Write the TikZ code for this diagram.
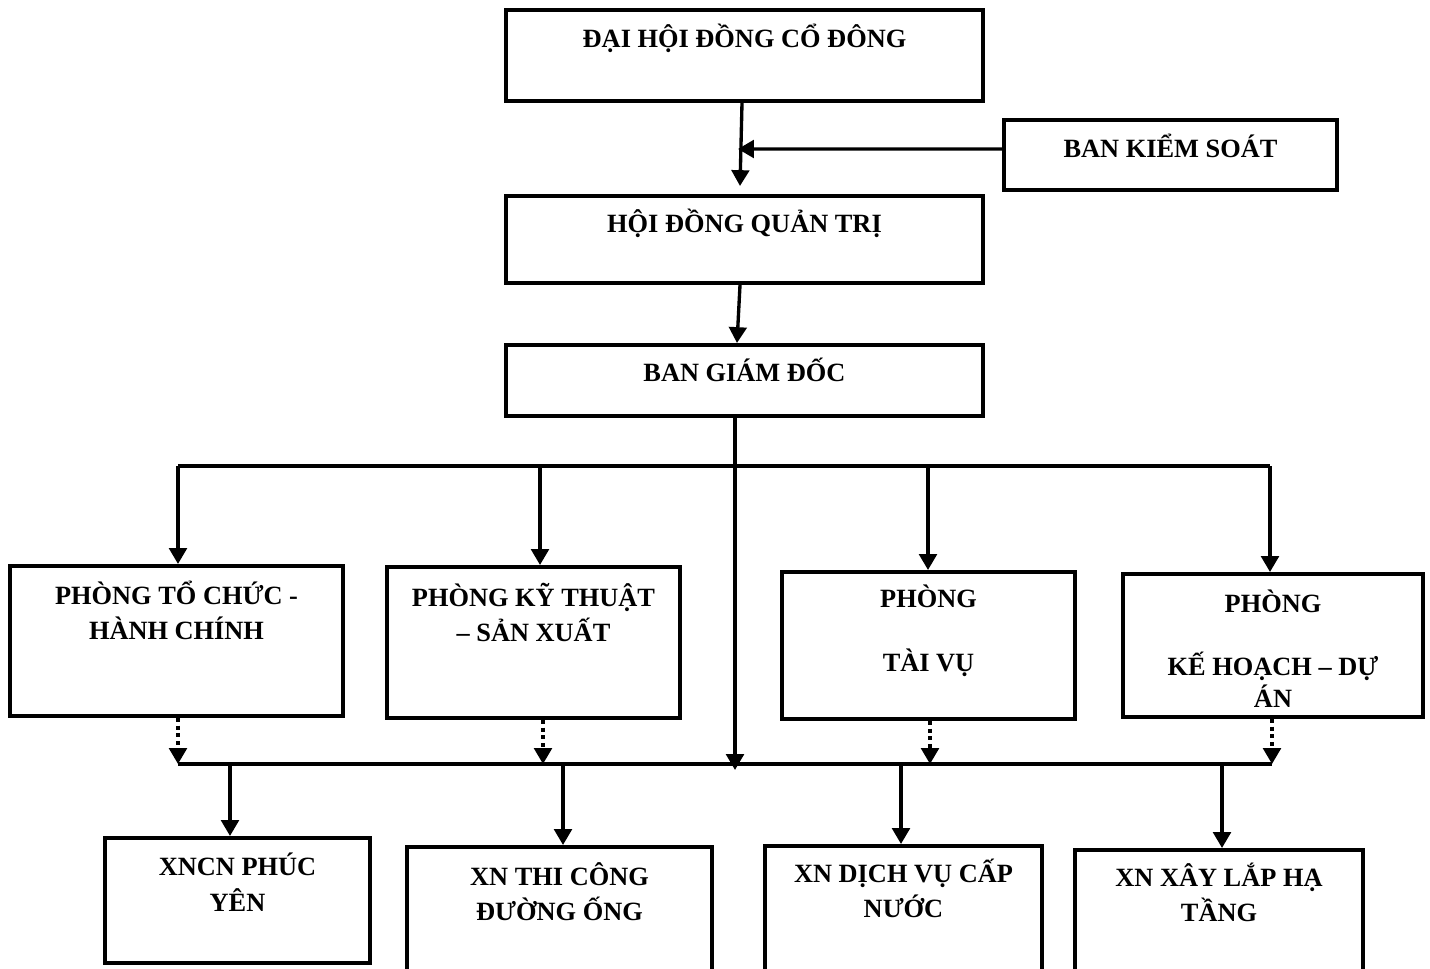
\documentclass[tikz,border=0pt]{standalone}
\usepackage{fontspec}
\setmainfont{Liberation Serif}
\usepackage{tikz}
\usetikzlibrary{positioning,calc,arrows.meta}

\begin{document}
\begin{tikzpicture}[x=0.02cm,y=-0.02cm,
        unit/.style={draw=black,line width=2.3pt,inner sep=0pt,fill=white},
        title/.style={font=\fontsize{15}{20}\selectfont\bfseries,align=center,inner sep=0pt,
                      execute at begin node=\rule{0pt}{16pt}},
        link/.style={line width=1.9pt,-{Triangle[width=10pt,length=9pt]}},
        sublink/.style={link,dash pattern=on 2.2pt off 2.2pt}
    ]
    \useasboundingbox (0,0) rectangle (1430,969);
    \clip (0,0) rectangle (1430,969);

    % Top levels
    \node[unit,minimum width=9.54cm,minimum height=1.82cm] (dh) at (744.5,55.5) {};
    \node[title,below=0.23cm of dh.north] (ldh) {ĐẠI HỘI ĐỒNG CỔ ĐÔNG};

    \node[unit,minimum width=6.66cm,minimum height=1.40cm] (bks) at (1170.5,155) {};
    \node[title,below=0.22cm of bks.north] (lbks) {BAN KIỂM SOÁT};

    \node[unit,minimum width=9.54cm,minimum height=1.74cm] (hdqt) at (744.5,239.5) {};
    \node[title,below=0.21cm of hdqt.north] (lhdqt) {HỘI ĐỒNG QUẢN TRỊ};

    \node[unit,minimum width=9.54cm,minimum height=1.42cm] (bgd) at (744.5,380.5) {};
    \node[title,below=0.20cm of bgd.north] (lbgd) {BAN GIÁM ĐỐC};

    % Departments
    \node[unit,minimum width=6.66cm,minimum height=3.00cm] (p1) at (176.5,641) {};
    \node[title,below=0.34cm of p1.north] (lp1) {PHÒNG TỔ CHỨC -\\HÀNH CHÍNH};

    \node[unit,minimum width=5.86cm,minimum height=3.02cm] (p2) at (533.5,642.5) {};
    \node[title,below=0.35cm of p2.north] (lp2) {PHÒNG KỸ THUẬT\\– SẢN XUẤT};

    \node[unit,minimum width=5.86cm,minimum height=2.94cm] (p3) at (928.5,645.5) {};
    \node[title,below=0.30cm of p3.north] (lp3) {PHÒNG\\[0.56cm]TÀI VỤ};

    \node[unit,minimum width=6.00cm,minimum height=2.86cm] (p4) at (1273,645.5) {};
    \node[title,below=0.36cm of p4.north] (lp4) {PHÒNG\\[0.54cm]KẾ HOẠCH – DỰ\\[-0.06cm]ÁN};

    % Enterprises
    \node[unit,minimum width=5.30cm,minimum height=2.50cm] (x1) at (237.5,900.5) {};
    \node[title,below=0.34cm of x1.north] (lx1) {XNCN PHÚC\\YÊN};

    \node[unit,minimum width=6.10cm,minimum height=3.30cm] (x2) at (559.5,929.5) {};
    \node[title,below=0.34cm of x2.north] (lx2) {XN THI CÔNG\\ĐƯỜNG ỐNG};

    \node[unit,minimum width=5.54cm,minimum height=3.30cm] (x3) at (903.5,928.5) {};
    \node[title,below=0.30cm of x3.north] (lx3) {XN DỊCH VỤ CẤP\\NƯỚC};

    \node[unit,minimum width=5.76cm,minimum height=3.30cm] (x4) at (1219,932.5) {};
    \node[title,below=0.30cm of x4.north] (lx4) {XN XÂY LẮP HẠ\\TẦNG};

    % Bus points
    \coordinate (jn) at (738,149);
    \coordinate (bm) at (735,770);
    \coordinate (t1) at (178,466);  \coordinate (t2) at (540,466);
    \coordinate (t3) at (928,466);  \coordinate (t4) at (1270,466);
    \coordinate (d1) at (178,764);  \coordinate (d2) at (543,764);
    \coordinate (d3) at (930,764);  \coordinate (d4) at (1272,764);
    \coordinate (e1) at (230,764);  \coordinate (e2) at (563,764);
    \coordinate (e3) at (901,764);  \coordinate (e4) at (1222,764);

    % Connectors
    \draw[link] ([xshift=-0.05cm]dh.south) -- ([xshift=-0.09cm,yshift=0.16cm]hdqt.north);
    \draw[link] ([yshift=0.12cm]bks.west) -- (jn);
    \draw[link] ([xshift=-0.09cm]hdqt.south) -- ([xshift=-0.15cm]bgd.north);
    \draw[link] (bgd.south -| bm) -- (bm);

    \draw[line width=2.6pt] (t1) -- (t4);
    \foreach \t/\p in {t1/p1,t2/p2,t3/p3,t4/p4}
        \draw[link] (\t) -- (\t |- \p.north);

    \foreach \d/\p in {d1/p1,d2/p2,d3/p3,d4/p4}
        \draw[sublink] (\d |- \p.south) -- (\d);
    \draw[line width=1.9pt] (d1) -- (d4);

    \foreach \e/\x in {e1/x1,e2/x2,e3/x3,e4/x4}
        \draw[link] (\e) -- (\e |- \x.north);

\end{tikzpicture}
\end{document}
